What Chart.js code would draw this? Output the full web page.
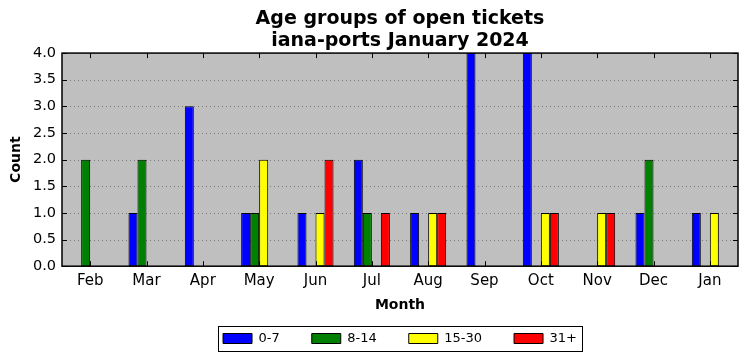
<!DOCTYPE html>
<html>
<head>
<meta charset="utf-8">
<script src="https://cdn.jsdelivr.net/npm/chart.js@4/dist/chart.umd.min.js"></script>
<style>
  html, body { margin: 0; padding: 0; background: #fff; }
  #wrap { width: 747px; height: 361px; }
</style>
</head>
<body>
<div id="wrap"><canvas id="chart" width="747" height="361"></canvas></div>
<script>
var months = ['Feb', 'Mar', 'Apr', 'May', 'Jun', 'Jul', 'Aug', 'Sep', 'Oct', 'Nov', 'Dec', 'Jan'];
var age0to7   = [0, 1, 3, 1, 1, 2, 1, 4, 4, 0, 1, 1];
var age8to14  = [2, 2, 0, 1, 0, 1, 0, 0, 0, 0, 2, 0];
var age15to30 = [0, 0, 0, 2, 1, 0, 1, 0, 1, 1, 0, 1];
var age31plus = [0, 0, 0, 0, 2, 1, 1, 0, 1, 1, 0, 0];
var yTicks = [0, 0.5, 1, 1.5, 2, 2.5, 3, 3.5, 4];

var FONT = 'DejaVu Sans';

// grey plot background, black frame, inward ticks on all four sides
var framePlugin = {
    id: 'frame',
    afterUpdate: function(chart) {
        var a = chart.chartArea;
        var mid = (a.left + a.right) / 2;
        // title centred over the plot, not the canvas
        var tb = chart.titleBlock;
        var dt = mid - (tb.left + tb.right) / 2;
        tb.left += dt; tb.right += dt;
        // legend centred under the plot and pulled up to its place
        var lg = chart.legend, boxes = lg.legendHitBoxes;
        var last = boxes[boxes.length - 1];
        var dx = mid - (boxes[0].left + last.left + last.width) / 2;
        var dy = 332 - boxes[0].top;
        lg.left += dx; lg.right += dx; lg.top += dy;
        lg.bottom = lg.top + 80; // keep the items inside the legend clip
        boxes.forEach(function(b) { b.left += dx; b.top += dy; });
    },
    beforeDatasetsDraw: function(chart) {
        var a = chart.chartArea, ctx = chart.ctx;
        ctx.save();
        ctx.fillStyle = '#bfbfbf';
        ctx.fillRect(a.left, a.top, a.right - a.left, a.bottom - a.top);
        // dotted grid
        ctx.strokeStyle = 'rgba(0,0,0,0.35)';
        ctx.lineWidth = 1;
        ctx.setLineDash([1, 3]);
        var ys = chart.scales.y;
        for (var i = 1; i < yTicks.length - 1; ++i) {
            var py = Math.round(ys.getPixelForValue(yTicks[i])) + 0.5;
            ctx.beginPath();
            ctx.moveTo(a.left, py);
            ctx.lineTo(a.right, py);
            ctx.stroke();
        }
        ctx.restore();
    },
    afterDatasetsDraw: function(chart) {
        var a = chart.chartArea, ctx = chart.ctx;
        var xs = chart.scales.x, ys = chart.scales.y;
        ctx.save();
        ctx.strokeStyle = '#000';
        ctx.lineWidth = 1;
        ctx.beginPath();
        for (var i = 0; i < months.length; ++i) {
            var px = Math.round(xs.getPixelForValue(i)) + 0.5;
            ctx.moveTo(px, a.top); ctx.lineTo(px, a.top + 5);
            ctx.moveTo(px, a.bottom); ctx.lineTo(px, a.bottom - 5);
        }
        for (var j = 0; j < yTicks.length; ++j) {
            var py = Math.round(ys.getPixelForValue(yTicks[j])) + 0.5;
            ctx.moveTo(a.left, py); ctx.lineTo(a.left + 5, py);
            ctx.moveTo(a.right, py); ctx.lineTo(a.right - 5, py);
        }
        ctx.stroke();
        ctx.lineWidth = 1.5;
        ctx.strokeRect(a.left, a.top, a.right - a.left, a.bottom - a.top);
        ctx.restore();
    },
    afterDraw: function(chart) {
        // box around the legend
        var boxes = chart.legend.legendHitBoxes;
        if (!boxes || !boxes.length) return;
        var last = boxes[boxes.length - 1];
        var ctx = chart.ctx;
        ctx.save();
        ctx.strokeStyle = '#000';
        ctx.lineWidth = 1;
        var l = Math.round(boxes[0].left - 5) + 0.5;
        var r = Math.round(last.left + last.width + 5) + 0.5;
        var t = Math.round(boxes[0].top - 6) + 0.5;
        var b = Math.round(boxes[0].top + boxes[0].height + 6) + 0.5;
        ctx.strokeRect(l, t, r - l, b - t);
        ctx.restore();
    }
};

function series(label, data, color) {
    return {
        label: label,
        data: data,
        backgroundColor: color,
        borderColor: '#000',
        borderWidth: 1,
        borderSkipped: false,
        categoryPercentage: 0.64,
        barPercentage: 1.0
    };
}

new Chart(document.getElementById('chart'), {
    type: 'bar',
    data: {
        labels: months,
        datasets: [
            series('0-7', age0to7, '#0000ff'),
            series('8-14', age8to14, '#008000'),
            series('15-30', age15to30, '#ffff00'),
            series('31+', age31plus, '#ff0000')
        ]
    },
    options: {
        responsive: false,
        animation: false,
        devicePixelRatio: 1,
        layout: { padding: { left: 0, right: 9, top: 0, bottom: 0 } },
        plugins: {
            title: {
                display: true,
                text: ['Age groups of open tickets', 'iana-ports January 2024'],
                color: '#000',
                font: { family: FONT, size: 19, weight: 'bold', lineHeight: 1.16 },
                padding: { top: 8, bottom: 1 }
            },
            legend: {
                position: 'bottom',
                maxHeight: 47,
                labels: {
                    color: '#000',
                    font: { family: FONT, size: 13 },
                    boxWidth: 29,
                    boxHeight: 10,
                    padding: 32,
                    useBorderRadius: false
                }
            },
            tooltip: { enabled: false }
        },
        scales: {
            x: {
                offset: true,
                grid: { display: false, drawTicks: false },
                border: { display: false },
                ticks: { color: '#000', font: { family: FONT, size: 15 }, padding: 6, maxRotation: 0 },
                title: {
                    display: true, text: 'Month', color: '#000',
                    font: { family: FONT, size: 14, weight: 'bold' },
                    padding: { top: 1, bottom: 0 }
                }
            },
            y: {
                min: 0,
                max: 4,
                grid: { display: false, drawTicks: false },
                border: { display: false },
                ticks: {
                    stepSize: 0.5,
                    color: '#000',
                    font: { family: FONT, size: 14.5 },
                    padding: 6,
                    callback: function(v) { return v.toFixed(1); }
                },
                title: {
                    display: true, text: 'Count', color: '#000',
                    font: { family: FONT, size: 14, weight: 'bold' },
                    padding: { top: 8, bottom: 4 }
                },
                afterFit: function(scale) { scale.width = 62; }
            }
        }
    },
    plugins: [framePlugin]
});
</script>
</body>
</html>
